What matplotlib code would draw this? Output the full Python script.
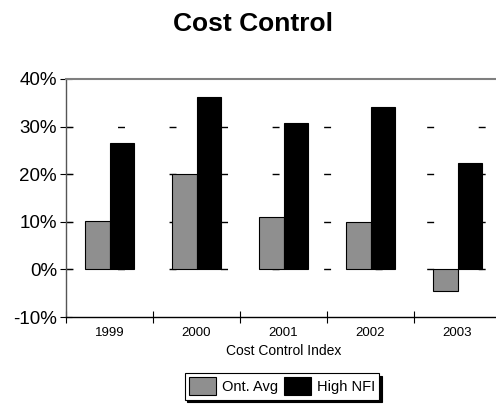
import numpy as np
import matplotlib.pyplot as plt
from matplotlib.ticker import FuncFormatter

plt.rcParams['font.family'] = ['Liberation Sans', 'DejaVu Sans']

years = ['1999', '2000', '2001', '2002', '2003']
ont_avg = [10.2, 20.0, 11.1, 10.0, -4.6]
high_nfi = [26.6, 36.3, 30.8, 34.2, 22.4]

fig = plt.figure(figsize=(4.96, 4.05), dpi=100)
ax = fig.add_axes([66 / 496, 1 - 317 / 405, 435 / 496, 238 / 405])

x = np.arange(len(years))
w = 0.28
ax.bar(x - w / 2, ont_avg, w, color='#8f8f8f', edgecolor='black', linewidth=0.8, zorder=3, label='Ont. Avg')
ax.bar(x + w / 2, high_nfi, w, color='black', edgecolor='black', linewidth=0.8, zorder=3, label='High NFI')

ax.set_xlim(-0.5, 4.5)
ax.set_ylim(-10, 40)
ax.set_yticks([-10, 0, 10, 20, 30, 40])
ax.yaxis.set_major_formatter(FuncFormatter(lambda v, p: '%d%%' % v))

# sparse dashed gridlines
for v in [0, 10, 20, 30]:
    ln, = ax.plot([-0.5, 4.5], [v, v], color='black', linewidth=1, zorder=1)
    ln.set_dashes((5, 32.1))

ax.set_xticks(x)
ax.set_xticklabels(years, fontsize=9.5)
ax.set_xticks(np.arange(-0.5, 5, 1), minor=True)
ax.tick_params(axis='x', which='major', length=0, pad=7)
ax.tick_params(axis='x', which='minor', direction='inout', length=8, width=0.8)
ax.tick_params(axis='y', direction='inout', length=9, width=0.8, labelsize=13.5, pad=2)

ax.spines['right'].set_visible(False)
ax.spines['top'].set_color('#7f7f7f')
ax.spines['top'].set_linewidth(1.5)
ax.spines['left'].set_color('#555555')
ax.spines['left'].set_linewidth(1)
ax.spines['bottom'].set_linewidth(1)

ax.set_xlabel('Cost Control Index', fontsize=10, labelpad=4)
fig.text(0.51, 1 - 24 / 405, 'Cost Control', ha='center', va='center', fontsize=19, fontweight='bold')

leg = fig.legend(loc='upper center', bbox_to_anchor=(282 / 496, 1 - 373 / 405), ncol=2, fontsize=10.5,
                 frameon=True, fancybox=False, edgecolor='black', handlelength=1.85, handleheight=1.5,
                 handletextpad=0.4, columnspacing=0.4, borderpad=0.3, borderaxespad=0,
                 shadow={'color': 'black', 'alpha': 1})
leg.get_frame().set_linewidth(0.8)

fig.savefig('out.png', dpi=100)
